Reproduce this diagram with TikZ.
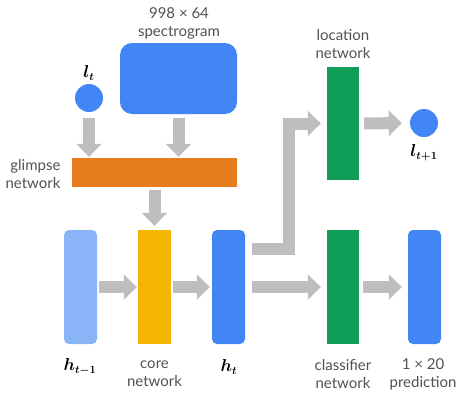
\documentclass[tikz,border=0pt]{standalone}
\usepackage{fontspec}
\setmainfont{Lato}
\usetikzlibrary{arrows.meta}

\definecolor{gblue}{HTML}{4285F4}
\definecolor{lblue}{HTML}{8AB4F8}
\definecolor{gyellow}{HTML}{F4B400}
\definecolor{ggreen}{HTML}{0F9D58}
\definecolor{gorange}{HTML}{E67C1E}
\definecolor{agray}{HTML}{BEBEBE}

\begin{document}
\begin{tikzpicture}[x=1pt, y=-1pt,
	bigarrow/.style={line width=12pt, draw=agray, line join=miter, -{Triangle[length=13pt, width=25pt]}},
	block/.style={draw=none, minimum width=33pt, minimum height=114pt, inner sep=0pt},
	txt/.style={align=center, text=black!68, font=\fontsize{15}{18}\selectfont},
	mathlbl/.style={text=black, font=\fontsize{16}{18}\selectfont\boldmath}]
\useasboundingbox (0,0) rectangle (457,399);

%inputs:
\node[fill=gblue, rounded corners=12pt, minimum width=117pt, minimum height=71pt, inner sep=0pt] (spec) at (178.5,78.5) {};
\node[txt] (speclabel) at (179,23) {998 × 64\\spectrogram};
\node[circle, fill=gblue, minimum size=28pt, inner sep=0pt] (lt) at (89,98) {};
\node[mathlbl] (ltlabel) at (89,73) {$l_t$};

%glimpse network:
\node[fill=gorange, minimum width=165pt, minimum height=29pt, inner sep=0pt] (glimpse) at (154.5,172.5) {};
\node[txt, align=right, anchor=east] (glimpselabel) at (64,174) {glimpse\\network};

%bottom row:
\node[block, fill=lblue, rounded corners=5pt] (hprev) at (80.5,287) {};
\node[block, fill=gyellow] (core) at (154.5,287) {};
\node[block, fill=gblue, rounded corners=5pt] (ht) at (228.5,287) {};
\node[block, fill=ggreen, minimum width=32pt] (classifier) at (343,287) {};
\node[block, fill=gblue, rounded corners=5pt] (prediction) at (424.5,287) {};

\node[mathlbl] (hprevlabel) at (80,367) {$h_{t-1}$};
\node[txt] (corelabel) at (154.5,374) {core\\network};
\node[mathlbl] (htlabel) at (229,367) {$h_t$};
\node[txt] (classlabel) at (343,374) {classifier\\network};
\node[txt] (predlabel) at (423,374) {1 × 20\\prediction};

%location network:
\node[block, fill=ggreen, minimum width=32pt, minimum height=113pt] (location) at (343,123.5) {};
\node[txt] (locationlabel) at (343,44) {location\\network};
\node[circle, fill=gblue, minimum size=28pt, inner sep=0pt] (lnext) at (424,123) {};
\node[mathlbl] (lnextlabel) at (424,153) {$l_{t+1}$};

%arrows:
\draw[bigarrow] ([yshift=-6pt]lt.south) -- ([yshift=1pt]lt.south |- glimpse.north);
\draw[bigarrow] ([yshift=-4pt]spec.south) -- ([yshift=1pt]spec.south |- glimpse.north);
\draw[bigarrow] ([yshift=-3pt]glimpse.south) -- ([yshift=4pt]core.north);
\draw[bigarrow] ([xshift=2pt]hprev.east) -- ([xshift=-1pt]core.west);
\draw[bigarrow] ([xshift=2pt]core.east) -- ([xshift=-2pt]ht.west);
\draw[bigarrow] ([xshift=7pt]ht.east) -- ([xshift=-6pt]classifier.west);
\draw[bigarrow] ([xshift=4pt]classifier.east) -- ([xshift=-6pt]prediction.west);
\draw[bigarrow] ([xshift=7pt, yshift=38.5pt]ht.east) -| ([xshift=-38pt]location.west) -- ([xshift=-6pt]location.west);
\draw[bigarrow] ([xshift=5pt]location.east) -- ([xshift=-8pt]lnext.west);
\end{tikzpicture}
\end{document}
